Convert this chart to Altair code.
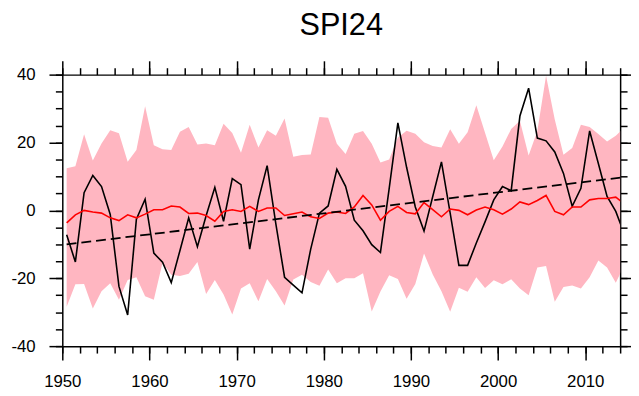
import altair as alt
import pandas as pd

years = list(range(1950, 2015))

spi = [-7.2, -15.2, 5.2, 10.3, 7.0, -1.2, -22.4, -30.8, -2.6, 3.3,
       -12.6, -15.3, -21.3, -11.8, -2.2, -10.7, -1.6, 6.8, -3.2, 9.4,
       7.6, -11.4, 3.1, 13.2, -4.0, -19.7, -22.0, -24.3, -11.4, -0.8,
       1.3, 12.1, 7.1, -2.9, -6.0, -10.1, -12.4, 6.4, 25.8, 12.7,
       1.0, -6.1, 4.1, 14.3, -0.8, -16.2, -16.2, -9.6, -3.4, 3.1,
       7.0, 5.8, 27.8, 36.0, 21.3, 20.5, 17.2, 10.9, 1.2, 6.5,
       23.4, 13.8, 4.1, -0.3, -7.1]

mean = [-3.7, -1.3, 0.0, -0.5, -0.8, -2.2, -3.0, -1.3, -2.2, -1.1,
        0.2, 0.2, 1.3, 1.0, -0.9, -0.8, -1.5, -3.2, -0.3, 0.2,
        -0.3, 1.2, -0.3, 0.7, 0.7, -1.5, -1.0, -0.5, -1.9, -2.4,
        -0.8, -0.5, -0.9, 1.0, 4.4, 1.6, -2.9, -0.3, 1.2, -0.6,
        -1.0, 2.3, 0.2, -1.9, 0.4, 0.0, -1.3, 0.1, 1.0, 0.2,
        -1.1, 0.4, 2.5, 1.7, 2.9, 4.4, -0.3, -1.3, 1.0, 1.0,
        3.1, 3.5, 3.5, 3.9, 1.9]

upper = [12.4, 13.0, 22.4, 14.7, 19.7, 23.6, 22.7, 14.3, 17.8, 30.7,
         19.2, 18.0, 17.8, 23.2, 24.6, 19.4, 19.7, 19.2, 25.5, 22.8,
         17.0, 25.2, 18.5, 23.6, 22.0, 27.1, 15.8, 16.3, 16.5, 27.5,
         27.3, 19.6, 16.6, 22.6, 23.4, 19.6, 14.1, 15.0, 21.5, 23.5,
         22.6, 20.1, 19.0, 18.5, 23.9, 19.6, 23.0, 31.0, 22.9, 14.8,
         18.8, 24.0, 26.4, 16.2, 23.4, 39.7, 26.8, 16.4, 18.4, 25.2,
         24.6, 22.5, 20.3, 22.0, 24.5]

lower = [-28.4, -21.8, -21.7, -28.9, -23.8, -21.5, -26.3, -20.5, -19.7, -25.3,
         -26.3, -15.4, -19.0, -19.3, -18.7, -15.2, -24.6, -20.5, -24.8, -30.7,
         -23.0, -21.5, -26.8, -20.2, -23.8, -28.0, -20.4, -19.0, -21.1, -22.2,
         -17.4, -21.5, -20.0, -20.0, -18.5, -29.8, -23.9, -19.1, -20.2, -26.0,
         -21.7, -12.7, -18.9, -23.8, -29.9, -22.8, -24.0, -19.7, -22.9, -20.6,
         -21.8, -20.3, -23.0, -25.0, -16.8, -16.4, -26.9, -22.6, -22.1, -23.0,
         -19.7, -14.8, -16.8, -21.3, -16.0]

trend_years = [1950, 2014]
trend_vals = [-10.0, 9.8]

x_major = list(range(1950, 2011, 10))
x_minor = list(range(1950, 2015, 2))
y_major = [-40, -20, 0, 20, 40]
y_minor = list(range(-40, 41, 5))

df = pd.DataFrame({"year": years, "spi": spi, "mean": mean,
                   "upper": upper, "lower": lower})
df["t"] = df["year"] + 0.5
tr = pd.DataFrame({"year": trend_years, "trend": trend_vals})
tr["t"] = tr["year"] + 0.5

FONT = "Liberation Sans"
xs = alt.Scale(domain=[1950, 2014], nice=False, zero=False)
ys = alt.Scale(domain=[-40, 40], nice=False, zero=False)

base_ax = dict(grid=False, title=None, domainColor="black", tickColor="black",
               domainWidth=1.5, tickWidth=1.5, labelFont=FONT,
               labelFontSize=17, labelColor="black", labelFlush=False,
               labelOverlap=False)

def ax(orient, values, size, labels=False, domain=True, pad=0):
    kw = dict(base_ax)
    kw.update(orient=orient, values=values, tickSize=size, labels=labels,
              domain=domain)
    if labels:
        kw.update(labelPadding=pad, labelExpr="'' + datum.value")
    return alt.Axis(**kw)

band = alt.Chart(df).mark_area(color="#FFB6C1", opacity=1, clip=True).encode(
    x=alt.X("t:Q", scale=xs, axis=ax("bottom", x_major, 14, True, True, 14)),
    y=alt.Y("lower:Q", scale=ys, axis=ax("left", y_major, 13.5, True, True, 14)),
    y2="upper:Q",
)

black = alt.Chart(df).mark_line(color="black", strokeWidth=1.6, clip=True).encode(
    x=alt.X("t:Q", scale=xs, axis=ax("bottom", x_minor, 7, domain=False)),
    y=alt.Y("spi:Q", scale=ys, axis=ax("left", y_minor, 7, domain=False)),
)

red = alt.Chart(df).mark_line(color="red", strokeWidth=1.6, clip=True).encode(
    x=alt.X("t:Q", scale=xs, axis=ax("top", x_major, 14)),
    y=alt.Y("mean:Q", scale=ys, axis=ax("right", y_major, 13.5)),
)

trend = alt.Chart(tr).mark_line(color="black", strokeWidth=1.8,
                                strokeDash=[10, 5], clip=True).encode(
    x=alt.X("t:Q", scale=xs, axis=ax("top", x_minor, 7, domain=False)),
    y=alt.Y("trend:Q", scale=ys, axis=ax("right", y_minor, 7, domain=False)),
)

chart = alt.layer(band, black, red, trend).resolve_axis(
    x="independent", y="independent"
).properties(
    width=565, height=275, autosize="none",
    padding={"left": 55, "top": 65, "right": 11, "bottom": 47},
    title=alt.TitleParams("SPI24", font=FONT, fontSize=31, fontWeight="normal",
                          color="black", anchor="middle", frame="group",
                          baseline="alphabetic", offset=-6),
).configure_view(stroke=None)

chart.save("out.html", embed_options={"renderer": "svg", "actions": False})
